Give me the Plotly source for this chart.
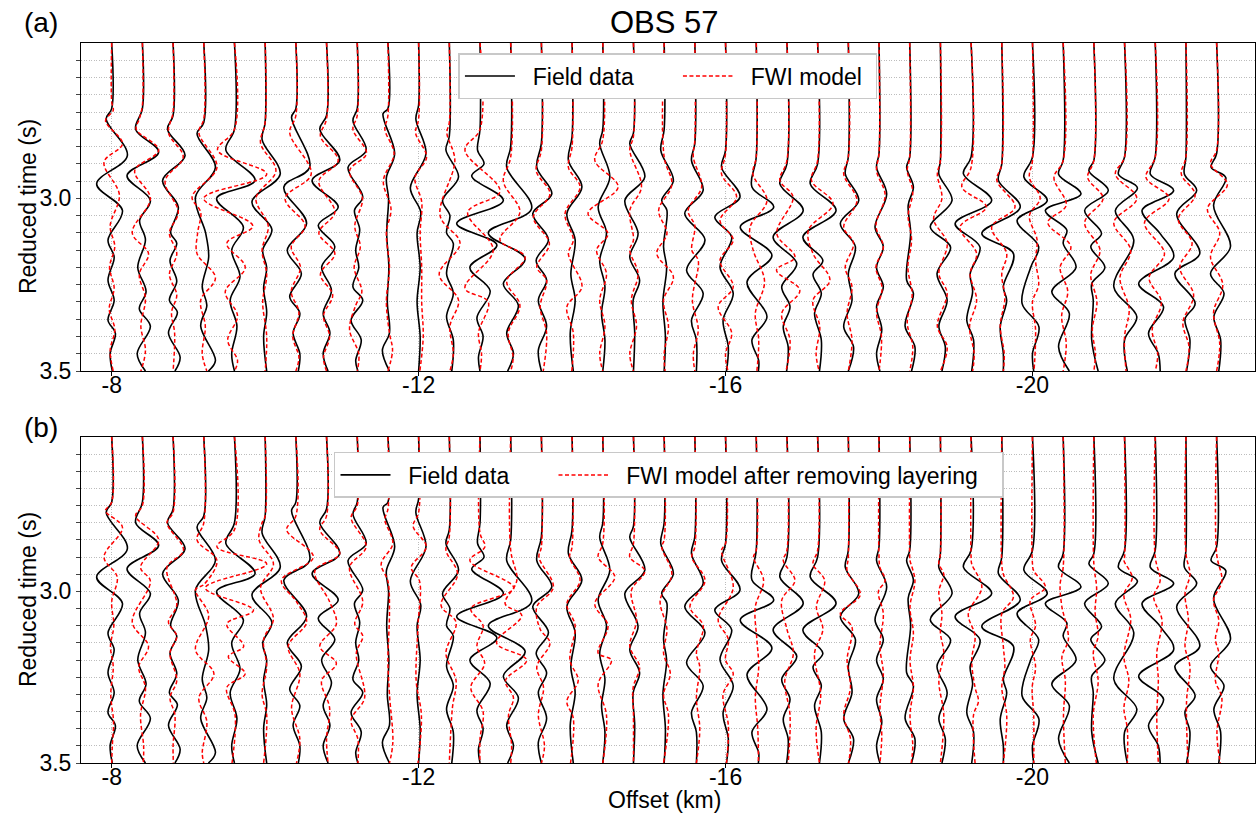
import plotly.graph_objects as go

# ---------------- data ----------------
OFFSETS_KM = [-8.0, -8.4, -8.8, -9.2, -9.6, -10.0, -10.4, -10.8, -11.2, -11.6,
              -12.0, -12.4, -12.8, -13.2, -13.6, -14.0, -14.4, -14.8, -15.2, -15.6,
              -16.0, -16.4, -16.8, -17.2, -17.6, -18.0, -18.4, -18.8, -19.2, -19.6,
              -20.0, -20.4, -20.8, -21.2, -21.6, -22.0, -22.4]

X_TICKS = [-8, -12, -16, -20]
X_TICK_TEXT = ["-8", "-12", "-16", "-20"]
Y_TICKS = [2.60, 2.65, 2.70, 2.75, 2.80, 2.85, 2.90, 2.95, 3.00,
           3.05, 3.10, 3.15, 3.20, 3.25, 3.30, 3.35, 3.40, 3.45, 3.50]
Y_TICK_TEXT = ["", "", "", "", "", "", "", "", "3.0",
               "", "", "", "", "", "", "", "", "", "3.5"]

T_TOP = 2.55          # top of the time window (s)
AMP_UNIT_KM = 0.4     # one amplitude unit = one trace spacing

# each trace: [time (s), amplitude (trace-spacing units)] at onset and extrema
FIELD_DATA = [
    [[2.74,0],[2.77,-0.18],[2.876,0.51],[2.958,-0.49],[3.035,0.35],[3.121,-0.12],[3.17,0.08],[3.237,-0.12],[3.295,0.08],[3.353,-0.12],[3.391,0.12],[3.449,-0.05],[3.5,0.02]],
    [[2.74,0],[2.80,-0.22],[2.866,0.53],[2.934,-0.5],[3.006,0.26],[3.064,-0.09],[3.12,0.1],[3.2,-0.15],[3.27,0.12],[3.32,-0.1],[3.37,0.26],[3.45,-0.17],[3.5,0.1]],
    [[2.76,0],[2.80,-0.18],[2.876,0.39],[2.948,-0.34],[3.025,0.17],[3.10,-0.08],[3.13,0.12],[3.18,-0.1],[3.24,0.12],[3.295,-0.12],[3.33,0.14],[3.39,-0.15],[3.46,0.23],[3.5,0.06]],
    [[2.78,0],[2.813,-0.22],[2.91,0.38],[2.996,-0.27],[3.1,0.06],[3.17,0.16],[3.256,-0.05],[3.31,0.1],[3.37,-0.1],[3.47,0.38],[3.5,0.15]],
    [[2.80,0],[2.86,-0.28],[2.948,0.67],[3.0,-0.58],[3.083,0.29],[3.15,-0.09],[3.227,0.18],[3.295,-0.14],[3.37,0.08],[3.45,-0.09],[3.5,0.0]],
    [[2.78,0],[2.83,-0.1],[2.93,0.49],[3.01,-0.43],[3.09,0.22],[3.15,-0.08],[3.2,0.05],[3.26,-0.05],[3.33,0.05],[3.4,-0.05],[3.5,0.05]],
    [[2.74,0],[2.765,-0.14],[2.91,0.45],[2.967,-0.39],[3.073,0.35],[3.15,-0.28],[3.218,0.18],[3.285,-0.2],[3.333,0.13],[3.39,-0.09],[3.45,0.13],[3.5,0.08]],
    [[2.76,0],[2.80,-0.22],[2.89,0.43],[2.948,-0.47],[3.025,0.38],[3.078,-0.27],[3.14,0.27],[3.199,-0.16],[3.266,0.16],[3.333,-0.11],[3.39,0.11],[3.45,-0.11],[3.5,0.05]],
    [[2.74,0],[2.775,-0.14],[2.861,0.29],[2.91,-0.3],[2.996,0.18],[3.035,-0.09],[3.09,0.08],[3.15,-0.05],[3.2,0.05],[3.256,-0.14],[3.295,0.18],[3.353,-0.2],[3.41,0.13],[3.47,-0.05],[3.5,0.02]],
    [[2.74,0],[2.755,-0.16],[2.87,0.22],[2.94,-0.05],[3.0,0.02],[3.1,-0.04],[3.2,0.03],[3.3,-0.02],[3.39,0.05],[3.44,-0.18],[3.5,0.05]],
    [[2.73,0],[2.77,-0.09],[2.87,0.24],[2.97,-0.27],[3.04,0.07],[3.1,-0.05],[3.2,0.05],[3.3,-0.05],[3.4,0.05],[3.5,0.0]],
    [[2.82,0],[2.86,-0.11],[2.938,0.3],[3.006,-0.22],[3.05,0.02],[3.1,-0.09],[3.13,0.13],[3.218,-0.09],[3.275,0.13],[3.343,-0.09],[3.41,0.13],[3.5,0.08]],
    [[2.80,0],[2.86,-0.08],[2.90,0.13],[2.935,-0.27],[3.006,0.76],[3.073,-0.76],[3.135,0.55],[3.2,-0.33],[3.268,0.33],[3.346,-0.1],[3.40,0.1],[3.46,-0.05],[3.5,0.0]],
    [[2.85,0],[2.91,-0.13],[3.03,0.68],[3.1,-0.73],[3.175,0.47],[3.247,-0.24],[3.31,0.25],[3.39,-0.13],[3.45,0.09],[3.5,-0.1]],
    [[2.84,0],[2.91,-0.15],[2.987,0.34],[3.044,-0.28],[3.12,0.23],[3.18,-0.17],[3.237,0.17],[3.295,-0.1],[3.37,0.17],[3.44,-0.1],[3.5,0.0]],
    [[2.82,0],[2.89,-0.12],[2.967,0.32],[3.044,-0.17],[3.12,0.1],[3.22,-0.04],[3.295,0.1],[3.39,-0.06],[3.5,0.04]],
    [[2.80,0],[2.842,-0.1],[2.938,0.23],[3.025,-0.15],[3.1,0.12],[3.18,-0.1],[3.256,0.07],[3.333,-0.04],[3.41,0.07],[3.5,0.0]],
    [[2.81,0],[2.842,-0.12],[2.938,0.37],[3.006,-0.28],[3.102,0.15],[3.17,-0.12],[3.237,0.2],[3.295,-0.01],[3.39,0.04],[3.5,0.0]],
    [[2.80,0],[2.861,-0.11],[2.948,0.3],[3.006,-0.08],[3.035,0.09],[3.14,-0.02],[3.2,0.08],[3.3,-0.04],[3.4,0.04],[3.5,0.0]],
    [[2.84,0],[2.89,-0.11],[2.977,0.27],[3.044,-0.33],[3.12,0.33],[3.208,-0.27],[3.275,0.27],[3.353,-0.11],[3.41,0.05],[3.5,0.05]],
    [[2.86,0],[2.91,-0.13],[2.996,0.47],[3.054,-0.35],[3.112,0.2],[3.199,-0.18],[3.275,0.25],[3.353,-0.08],[3.43,0.09],[3.5,0.03]],
    [[2.88,0],[2.967,-0.14],[3.025,0.57],[3.083,-0.52],[3.165,0.51],[3.242,-0.3],[3.343,0.35],[3.41,-0.14],[3.47,0.08],[3.5,0.07]],
    [[2.90,0],[2.958,-0.23],[3.035,0.53],[3.112,-0.45],[3.189,0.32],[3.256,-0.17],[3.314,0.1],[3.372,-0.12],[3.43,0.04],[3.5,-0.01]],
    [[2.90,0],[2.958,-0.24],[3.035,0.6],[3.112,-0.48],[3.18,0.17],[3.22,-0.15],[3.275,0.12],[3.333,-0.1],[3.41,0.12],[3.5,0.06]],
    [[2.88,0],[2.929,-0.1],[3.006,0.34],[3.073,-0.26],[3.14,0.23],[3.218,0.0],[3.295,0.12],[3.372,-0.15],[3.43,0.17],[3.5,0.0]],
    [[2.87,0],[2.91,-0.08],[2.987,0.25],[3.083,-0.13],[3.14,0.14],[3.2,-0.08],[3.256,0.14],[3.314,-0.08],[3.38,0.09],[3.45,-0.08],[3.5,0.03]],
    [[2.88,0],[2.91,-0.1],[2.967,0.12],[3.02,-0.05],[3.1,0.03],[3.237,-0.1],[3.275,0.12],[3.37,-0.15],[3.43,0.17],[3.5,0.06]],
    [[2.89,0],[2.93,-0.05],[3.006,0.38],[3.083,-0.33],[3.141,0.33],[3.218,-0.11],[3.295,0.22],[3.37,-0.05],[3.43,0.16],[3.5,0.05]],
    [[2.88,0],[2.929,-0.25],[3.006,0.67],[3.073,-0.52],[3.141,0.29],[3.218,-0.03],[3.27,0.05],[3.353,-0.14],[3.41,0.08],[3.5,0.02]],
    [[2.90,0],[2.948,-0.11],[3.025,0.6],[3.102,-0.65],[3.16,0.38],[3.256,0.05],[3.295,0.16],[3.372,-0.05],[3.45,0.05],[3.5,0.05]],
    [[2.88,0],[2.938,-0.28],[3.006,0.48],[3.064,-0.5],[3.14,0.2],[3.2,-0.06],[3.304,-0.34],[3.372,0.21],[3.45,0.0],[3.5,0.04]],
    [[2.89,0],[2.93,-0.15],[2.987,0.58],[3.035,-0.58],[3.092,0.12],[3.13,0.0],[3.2,0.42],[3.27,-0.37],[3.333,0.2],[3.43,-0.15],[3.5,0.2]],
    [[2.89,0],[2.92,-0.16],[2.977,0.47],[3.035,-0.3],[3.102,0.25],[3.14,-0.1],[3.2,0.36],[3.247,-0.07],[3.295,-0.02],[3.41,-0.07],[3.5,0.14]],
    [[2.88,0],[2.93,-0.2],[2.97,0.42],[3.035,-0.3],[3.12,0.3],[3.256,-0.35],[3.343,0.4],[3.41,0.0],[3.5,0.09]],
    [[2.88,0],[2.93,-0.16],[2.977,0.6],[3.035,-0.43],[3.102,0.16],[3.17,0.6],[3.247,-0.54],[3.314,0.27],[3.391,-0.22],[3.45,0.1],[3.5,0.16]],
    [[2.88,0],[2.93,-0.05],[2.977,0.35],[3.044,-0.3],[3.16,0.45],[3.218,-0.36],[3.304,0.3],[3.35,-0.03],[3.41,0.13],[3.5,0.02]],
    [[2.87,0],[2.91,-0.18],[2.94,0.3],[3.02,-0.1],[3.14,0.45],[3.218,-0.2],[3.275,0.24],[3.343,-0.09],[3.41,0.13],[3.5,0.07]],
]

FWI_MODEL = [
    [[2.72,0],[2.745,0.05],[2.775,-0.2],[2.842,0.35],[2.895,-0.25],[2.99,0.25],[3.08,-0.05],[3.14,0.1],[3.2,-0.07],[3.26,0.08],[3.32,-0.08],[3.38,0.1],[3.44,-0.05],[3.5,0.05]],
    [[2.73,0],[2.77,-0.1],[2.80,-0.2],[2.86,0.53],[2.92,-0.25],[3.0,0.26],[3.1,-0.33],[3.16,0.2],[3.22,-0.1],[3.29,0.1],[3.37,-0.05],[3.44,0.1],[3.5,-0.05]],
    [[2.75,0],[2.81,-0.15],[2.88,0.33],[2.95,-0.26],[3.04,0.17],[3.1,-0.12],[3.16,0.12],[3.22,-0.12],[3.28,0.12],[3.33,-0.05],[3.39,0.05],[3.5,0.0]],
    [[2.77,0],[2.81,-0.16],[2.91,0.43],[2.996,-0.38],[3.04,-0.1],[3.1,-0.2],[3.16,-0.22],[3.23,0.38],[3.295,-0.1],[3.37,0.05],[3.45,-0.05],[3.5,0.1]],
    [[2.80,0],[2.86,-0.55],[2.93,1.05],[3.0,-1.0],[3.08,0.6],[3.13,-0.25],[3.2,0.35],[3.27,-0.3],[3.34,0.1],[3.41,-0.22],[3.47,0.1],[3.5,0.0]],
    [[2.78,0],[2.84,-0.15],[2.92,0.35],[3.0,-0.3],[3.08,0.1],[3.15,-0.1],[3.22,0.05],[3.3,-0.08],[3.4,0.05],[3.5,0.0]],
    [[2.76,0],[2.81,-0.2],[2.93,0.5],[3.0,-0.35],[3.08,0.3],[3.14,-0.15],[3.2,0.15],[3.27,-0.15],[3.33,0.1],[3.4,-0.1],[3.46,0.1],[3.5,0.0]],
    [[2.77,0],[2.82,-0.2],[2.89,0.38],[2.95,-0.25],[3.04,0.27],[3.1,-0.25],[3.16,0.27],[3.22,-0.2],[3.28,0.2],[3.34,-0.1],[3.4,0.1],[3.46,-0.1],[3.5,0.0]],
    [[2.76,0],[2.80,-0.14],[2.87,0.3],[2.92,-0.25],[3.0,0.17],[3.08,-0.08],[3.14,0.1],[3.2,-0.1],[3.27,0.15],[3.31,-0.05],[3.38,-0.25],[3.45,0.05],[3.5,0.0]],
    [[2.76,0],[2.80,-0.1],[2.87,0.2],[2.95,-0.15],[3.03,0.1],[3.1,-0.05],[3.2,0.05],[3.3,-0.05],[3.39,0.05],[3.44,0.15],[3.5,0.0]],
    [[2.77,0],[2.81,-0.1],[2.88,0.26],[2.94,-0.12],[3.01,0.1],[3.1,0.05],[3.2,0.1],[3.3,0.1],[3.4,0.15],[3.5,0.04]],
    [[2.78,0],[2.81,-0.08],[2.89,0.18],[3.05,-0.3],[3.13,0.35],[3.22,-0.33],[3.295,0.3],[3.37,0.02],[3.45,0.13],[3.5,0.02]],
    [[2.80,0],[2.86,-0.49],[2.98,0.65],[3.04,-0.4],[3.15,0.43],[3.26,-0.49],[3.3,0.27],[3.39,-0.05],[3.45,0.05],[3.5,0.0]],
    [[2.88,0],[2.95,-0.24],[3.04,0.3],[3.12,-0.35],[3.17,0.47],[3.24,-0.13],[3.31,0.3],[3.39,-0.08],[3.46,0.08],[3.5,0.0]],
    [[2.86,0],[2.92,-0.17],[2.987,0.28],[3.054,-0.26],[3.131,0.26],[3.199,-0.15],[3.237,0.17],[3.314,-0.04],[3.39,0.17],[3.5,0.06]],
    [[2.85,0],[2.91,-0.12],[2.967,0.26],[3.044,-0.23],[3.12,0.04],[3.16,-0.12],[3.256,0.32],[3.314,-0.17],[3.39,0.04],[3.5,-0.01]],
    [[2.83,0],[2.89,-0.26],[2.967,0.5],[3.044,-0.48],[3.102,0.17],[3.15,-0.2],[3.218,0.12],[3.295,-0.1],[3.37,0.07],[3.45,-0.1],[3.5,0.0]],
    [[2.82,0],[2.86,-0.12],[2.967,0.26],[3.035,-0.12],[3.12,0.0],[3.15,-0.12],[3.218,0.15],[3.295,-0.07],[3.37,0.1],[3.45,-0.12],[3.5,0.0]],
    [[2.88,0],[2.96,0.25],[3.035,-0.18],[3.102,0.09],[3.16,-0.24],[3.227,0.3],[3.295,-0.02],[3.37,0.14],[3.45,0.0],[3.5,0.03]],
    [[2.83,0],[2.88,-0.05],[2.967,0.22],[3.035,-0.22],[3.08,0.0],[3.15,-0.1],[3.18,0.11],[3.295,-0.08],[3.38,0.11],[3.45,-0.05],[3.5,0.0]],
    [[2.87,0],[2.93,-0.13],[2.996,0.36],[3.064,-0.18],[3.12,0.25],[3.18,-0.18],[3.256,0.25],[3.314,-0.24],[3.39,0.2],[3.45,0.0],[3.5,0.08]],
    [[2.88,0],[2.93,-0.11],[3.006,0.35],[3.083,-0.2],[3.15,-0.1],[3.24,0.27],[3.333,-0.03],[3.41,0.08],[3.5,0.02]],
    [[2.89,0],[2.948,-0.23],[2.996,0.2],[3.102,-0.33],[3.17,0.26],[3.208,-0.34],[3.266,0.42],[3.333,-0.17],[3.41,0.1],[3.5,-0.03]],
    [[2.89,0],[2.948,-0.2],[3.015,0.5],[3.092,-0.3],[3.16,-0.15],[3.237,0.4],[3.295,-0.15],[3.372,0.07],[3.45,-0.05],[3.5,0.05]],
    [[2.88,0],[2.93,-0.15],[3.006,0.28],[3.083,-0.15],[3.13,0.17],[3.2,-0.1],[3.256,0.12],[3.333,-0.04],[3.41,0.12],[3.5,0.0]],
    [[2.87,0],[2.92,-0.08],[2.99,0.2],[3.08,-0.1],[3.14,0.14],[3.2,-0.1],[3.26,0.1],[3.33,-0.08],[3.4,0.08],[3.5,0.0]],
    [[2.88,0],[2.92,-0.08],[2.98,0.1],[3.05,-0.05],[3.12,0.06],[3.2,-0.06],[3.28,0.08],[3.36,-0.08],[3.43,0.1],[3.5,0.0]],
    [[2.89,0],[2.93,-0.1],[3.0,0.05],[3.06,-0.22],[3.13,0.22],[3.218,-0.05],[3.275,0.22],[3.37,-0.1],[3.43,0.22],[3.5,0.0]],
    [[2.91,0],[2.967,-0.3],[3.025,0.5],[3.083,-0.36],[3.16,0.18],[3.218,-0.03],[3.295,0.18],[3.37,-0.05],[3.45,0.1],[3.5,0.05]],
    [[2.90,0],[2.948,-0.16],[3.025,0.43],[3.083,-0.33],[3.16,0.16],[3.218,0.0],[3.29,0.1],[3.37,-0.05],[3.45,0.08],[3.5,0.05]],
    [[2.89,0],[2.94,-0.1],[3.0,0.25],[3.05,-0.1],[3.12,0.15],[3.18,0.1],[3.25,0.2],[3.3,0.0],[3.38,0.1],[3.5,0.05]],
    [[2.89,0],[2.94,-0.3],[3.02,0.1],[3.07,-0.5],[3.14,0.25],[3.2,-0.1],[3.27,0.15],[3.34,-0.05],[3.42,0.1],[3.5,0.0]],
    [[2.89,0],[2.94,-0.2],[3.0,0.3],[3.07,-0.3],[3.15,0.2],[3.22,-0.1],[3.3,0.1],[3.38,-0.05],[3.45,0.05],[3.5,0.0]],
    [[2.88,0],[2.93,-0.3],[3.0,0.4],[3.07,-0.35],[3.15,0.2],[3.23,-0.15],[3.32,0.15],[3.4,0.0],[3.5,0.05]],
    [[2.88,0],[2.94,-0.3],[3.0,0.45],[3.07,-0.35],[3.16,0.3],[3.23,-0.2],[3.3,0.2],[3.38,-0.1],[3.45,0.08],[3.5,0.0]],
    [[2.88,0],[2.93,-0.15],[2.99,0.3],[3.06,-0.25],[3.13,0.2],[3.2,-0.2],[3.28,0.25],[3.36,-0.1],[3.43,0.1],[3.5,0.0]],
    [[2.86,0],[2.9,-0.2],[2.96,0.35],[3.03,-0.3],[3.1,0.1],[3.17,-0.2],[3.25,0.2],[3.33,-0.1],[3.42,0.1],[3.5,0.0]],
]

FWI_NO_LAYERING = [
    [[2.74,0],[2.765,-0.2],[2.813,0.35],[2.9,-0.25],[2.958,0.18],[3.03,0.0],[3.1,0.07],[3.16,-0.04],[3.22,0.05],[3.3,-0.03],[3.38,0.06],[3.45,0.02],[3.5,0.0]],
    [[2.75,0],[2.78,-0.22],[2.85,0.53],[2.93,-0.06],[2.97,0.26],[3.09,-0.33],[3.16,0.2],[3.22,-0.12],[3.28,0.1],[3.36,-0.06],[3.45,0.04],[3.5,0.03]],
    [[2.77,0],[2.80,-0.2],[2.88,0.34],[2.93,-0.2],[3.04,0.12],[3.09,-0.15],[3.13,0.12],[3.18,-0.1],[3.26,0.12],[3.31,-0.1],[3.36,0.06],[3.45,0.0],[3.5,0.01]],
    [[2.80,0],[2.85,-0.22],[2.91,0.43],[2.98,0.0],[2.995,-0.27],[3.07,0.16],[3.17,-0.27],[3.24,0.33],[3.31,-0.16],[3.38,0.1],[3.47,-0.05],[3.5,0.0]],
    [[2.82,0],[2.87,-0.57],[2.92,1.05],[2.99,-0.95],[3.055,0.62],[3.095,-0.25],[3.16,0.3],[3.19,-0.2],[3.24,0.35],[3.28,-0.25],[3.36,0.02],[3.5,-0.08]],
    [[2.78,0],[2.80,-0.1],[2.85,-0.2],[2.92,0.27],[2.99,-0.15],[3.08,0.27],[3.14,-0.05],[3.22,0.05],[3.30,-0.1],[3.36,0.05],[3.5,-0.05]],
    [[2.78,0],[2.82,-0.3],[2.9,0.57],[2.968,-0.47],[3.03,0.02],[3.09,0.35],[3.16,-0.25],[3.24,0.13],[3.34,-0.14],[3.43,0.13],[3.5,0.02]],
    [[2.78,0],[2.82,-0.22],[2.89,0.43],[2.94,-0.38],[3.03,0.1],[3.095,0.32],[3.16,-0.22],[3.21,0.32],[3.26,-0.16],[3.34,0.1],[3.43,0.0],[3.5,0.05]],
    [[2.75,0],[2.785,-0.2],[2.87,0.29],[2.93,-0.25],[3.03,0.18],[3.095,-0.08],[3.13,0.18],[3.18,-0.03],[3.31,0.24],[3.375,-0.2],[3.43,0.02],[3.5,0.02]],
    [[2.76,0],[2.79,-0.1],[2.86,0.16],[2.92,-0.22],[2.97,0.0],[3.06,0.05],[3.2,0.0],[3.3,0.05],[3.44,0.16],[3.5,0.05]],
    [[2.77,0],[2.81,-0.18],[2.87,0.25],[2.93,-0.24],[2.97,0.03],[3.1,-0.02],[3.26,-0.08],[3.36,0.09],[3.5,-0.02]],
    [[2.84,0],[2.88,-0.11],[2.95,0.27],[3.04,-0.27],[3.09,0.22],[3.18,-0.11],[3.26,0.22],[3.34,0.1],[3.5,0.0]],
    [[2.83,0],[2.87,0.16],[2.91,-0.33],[2.99,1.1],[3.05,-0.3],[3.1,0.1],[3.16,-0.1],[3.21,0.15],[3.28,-0.3],[3.35,0.1],[3.43,0.0],[3.5,0.0]],
    [[2.88,0],[2.968,0.2],[3.036,-0.18],[3.07,0.36],[3.15,-0.46],[3.2,0.52],[3.26,-0.17],[3.31,0.09],[3.36,-0.07],[3.45,0.03],[3.5,0.0]],
    [[2.87,0],[2.9,-0.08],[2.988,0.39],[3.045,-0.15],[3.11,-0.04],[3.15,0.28],[3.22,-0.15],[3.28,0.07],[3.36,-0.1],[3.45,0.1],[3.5,0.0]],
    [[2.87,0],[2.9,-0.08],[2.968,0.26],[3.036,-0.17],[3.1,0.1],[3.2,-0.07],[3.26,0.2],[3.32,-0.17],[3.37,0.04],[3.5,-0.05]],
    [[2.86,0],[2.9,-0.15],[2.958,0.39],[3.036,-0.26],[3.1,0.17],[3.18,-0.15],[3.2,0.28],[3.27,-0.15],[3.36,0.12],[3.5,0.0]],
    [[2.86,0],[2.9,-0.12],[2.94,0.37],[2.998,-0.07],[3.085,0.1],[3.16,-0.12],[3.22,0.2],[3.28,-0.01],[3.36,0.0],[3.5,0.0]],
    [[2.85,0],[2.87,-0.08],[2.949,0.25],[3.026,-0.13],[3.11,0.09],[3.18,-0.02],[3.24,0.2],[3.3,-0.02],[3.36,0.14],[3.5,-0.02]],
    [[2.87,0],[2.9,-0.1],[2.968,0.33],[3.045,-0.16],[3.1,0.27],[3.18,0.05],[3.22,0.16],[3.31,0.05],[3.4,0.16],[3.5,0.05]],
    [[2.86,0],[2.88,-0.13],[2.988,0.25],[3.084,-0.24],[3.14,0.09],[3.2,0.0],[3.24,0.25],[3.3,-0.08],[3.39,0.09],[3.5,0.03]],
    [[2.88,0],[2.9,-0.09],[2.968,0.24],[3.045,-0.03],[3.14,0.02],[3.22,0.08],[3.31,-0.03],[3.4,0.05],[3.5,0.07]],
    [[2.88,0],[2.91,-0.12],[2.968,0.26],[3.026,-0.17],[3.11,0.0],[3.18,0.21],[3.26,-0.07],[3.36,0.1],[3.5,0.04]],
    [[2.88,0],[2.92,-0.15],[2.968,0.23],[3.045,-0.04],[3.11,0.17],[3.18,-0.1],[3.3,0.1],[3.4,-0.05],[3.5,0.06]],
    [[2.9,0],[2.94,-0.04],[3.01,0.39],[3.065,-0.26],[3.104,0.12],[3.2,-0.04],[3.28,0.07],[3.36,-0.15],[3.43,0.07],[3.5,0.01]],
    [[2.9,0],[2.93,0.03],[2.968,0.2],[3.0,-0.02],[3.065,0.14],[3.16,0.03],[3.24,0.14],[3.34,0.03],[3.42,0.09],[3.5,0.03]],
    [[2.9,0],[2.91,0.01],[2.968,0.17],[3.045,0.01],[3.123,0.12],[3.2,0.01],[3.28,0.12],[3.36,0.01],[3.45,0.1],[3.5,0.05]],
    [[2.89,0],[2.92,-0.05],[2.95,0.11],[3.0,-0.05],[3.065,0.05],[3.12,0.0],[3.18,0.11],[3.26,-0.05],[3.36,0.11],[3.5,0.0]],
    [[2.9,0],[2.92,0.02],[2.988,0.35],[3.065,-0.09],[3.13,0.13],[3.2,0.02],[3.28,0.13],[3.32,0.24],[3.36,0.08],[3.5,0.13]],
    [[2.92,0],[2.95,0.05],[3.016,0.38],[3.065,0.0],[3.16,0.05],[3.22,0.1],[3.28,0.0],[3.36,0.16],[3.5,0.05]],
    [[2.92,0],[2.94,0.04],[2.988,0.42],[3.026,-0.07],[3.1,0.1],[3.14,-0.07],[3.22,0.1],[3.28,-0.01],[3.36,0.04],[3.5,0.04]],
    [[2.93,0],[2.98,-0.1],[3.04,-0.05],[3.14,0.17],[3.19,-0.04],[3.26,0.07],[3.36,0.01],[3.5,0.07]],
    [[2.92,0],[2.99,0.09],[3.06,0.04],[3.13,0.14],[3.18,-0.02],[3.26,0.14],[3.36,-0.02],[3.5,0.08]],
    [[2.9,0],[2.91,-0.02],[2.96,0.25],[3.01,-0.02],[3.08,0.2],[3.19,-0.02],[3.26,0.14],[3.34,-0.02],[3.4,0.09],[3.5,0.09]],
    [[2.9,0],[2.968,0.16],[3.016,-0.05],[3.084,0.22],[3.18,0.05],[3.26,0.1],[3.36,0.05],[3.5,0.1]],
    [[2.89,0],[2.95,0.13],[3.007,-0.03],[3.085,0.08],[3.16,-0.03],[3.22,0.13],[3.32,0.02],[3.5,0.07]],
    [[2.89,0],[2.97,0.17],[3.026,-0.1],[3.085,0.07],[3.14,-0.04],[3.18,0.07],[3.26,-0.04],[3.31,0.17],[3.41,0.01],[3.5,0.12]],
]

# ---------------- figure ----------------
FONT = "Liberation Sans, Arial, Helvetica, sans-serif"
PAD = "\u00a0\u00a0"   # small gap between legend line sample and its label


def wiggle(offset, pts):
    ts = [T_TOP] + [p[0] for p in pts]
    xs = [offset] + [offset - p[1] * AMP_UNIT_KM for p in pts]
    return xs, ts


fig = go.Figure()

panels = [
    ("x", "y", "legend", FWI_MODEL, "FWI model", 133),
    ("x2", "y2", "legend2", FWI_NO_LAYERING, "FWI model after removing layering", 384),
]

for xa, ya, leg, model, model_name, model_lw in panels:
    for i, off in enumerate(OFFSETS_KM):
        xs, ts = wiggle(off, FIELD_DATA[i])
        fig.add_trace(go.Scatter(
            x=xs, y=ts, mode="lines", xaxis=xa, yaxis=ya,
            line=dict(color="black", width=1.6, shape="spline", smoothing=1.0),
            name=PAD + "Field data", legend=leg, showlegend=(i == 0),
            legendwidth=153, hoverinfo="skip"))
    for i, off in enumerate(OFFSETS_KM):
        xs, ts = wiggle(off, model[i])
        fig.add_trace(go.Scatter(
            x=xs, y=ts, mode="lines", xaxis=xa, yaxis=ya,
            line=dict(color="#ff0000", width=1.5, dash="4px,2.5px",
                      shape="spline", smoothing=1.0),
            name=PAD + model_name, legend=leg, showlegend=(i == 0),
            legendwidth=model_lw, hoverinfo="skip"))

X_RANGE = [-7.6, -22.9]
Y_RANGE = [3.5, 2.55]

grid = dict(gridcolor="#bdbdbd", griddash="1px,1.5px", gridwidth=1)

xaxis_common = dict(
    range=X_RANGE, tickmode="array", tickvals=X_TICKS, ticktext=X_TICK_TEXT,
    showgrid=True, zeroline=False, showline=True, linecolor="black",
    linewidth=1, mirror=True, ticks="outside", ticklen=4, tickcolor="black",
    ticklabelstandoff=-11,
    tickfont=dict(size=23, color="black", family=FONT), **grid)

yaxis_common = dict(
    range=Y_RANGE, tickmode="array", tickvals=Y_TICKS, ticktext=Y_TICK_TEXT,
    showgrid=True, zeroline=False, showline=True, linecolor="black",
    linewidth=1, mirror=True, ticks="outside", ticklen=4, tickcolor="#444444",
    tickfont=dict(size=23, color="black", family=FONT),
    **grid)

legend_common = dict(
    orientation="h", xanchor="left", yanchor="top",
    bgcolor="white", bordercolor="#c8c8c8", borderwidth=1.5,
    font=dict(size=23, color="black", family=FONT),
    itemwidth=50, traceorder="normal")

axis_title_font = dict(size=23, color="black", family=FONT)

fig.update_layout(
    width=1257, height=822,
    margin=dict(l=81, r=2, t=43, b=59),
    paper_bgcolor="white", plot_bgcolor="white",
    font=dict(family=FONT, color="black", size=23),
    showlegend=True,
    xaxis=dict(domain=[0, 1], anchor="y", **xaxis_common),
    yaxis=dict(domain=[0.5444, 1.0], anchor="x", **yaxis_common),
    xaxis2=dict(domain=[0, 1], anchor="y2", **xaxis_common),
    yaxis2=dict(domain=[0.0, 0.4528], anchor="x2", **yaxis_common),
    legend=dict(x=0.3215, y=0.986, **legend_common),
    legend2=dict(x=0.2155, y=0.4320, **legend_common),
    annotations=[
        dict(text="OBS 57", xref="paper", yref="paper", x=0.4974, y=1.029,
             xanchor="center", yanchor="middle", showarrow=False,
             font=dict(size=31, color="black", family=FONT)),
        dict(text="(a)", xref="paper", yref="paper", x=-0.0503, y=1.029,
             xanchor="left", yanchor="middle", showarrow=False,
             font=dict(size=28, color="black", family=FONT)),
        dict(text="(b)", xref="paper", yref="paper", x=-0.0503, y=0.4653,
             xanchor="left", yanchor="middle", showarrow=False,
             font=dict(size=28, color="black", family=FONT)),
        dict(text="Reduced time (s)", xref="paper", yref="paper",
             x=-0.0451, y=0.7722, textangle=-90, xanchor="center", yanchor="middle",
             showarrow=False, font=axis_title_font),
        dict(text="Reduced time (s)", xref="paper", yref="paper",
             x=-0.0451, y=0.2264, textangle=-90, xanchor="center", yanchor="middle",
             showarrow=False, font=axis_title_font),
        dict(text="Offset (km)", xref="paper", yref="paper",
             x=0.4974, y=-0.0514, xanchor="center", yanchor="middle",
             showarrow=False, font=axis_title_font),
    ],
)

fig.write_html("out.html")
